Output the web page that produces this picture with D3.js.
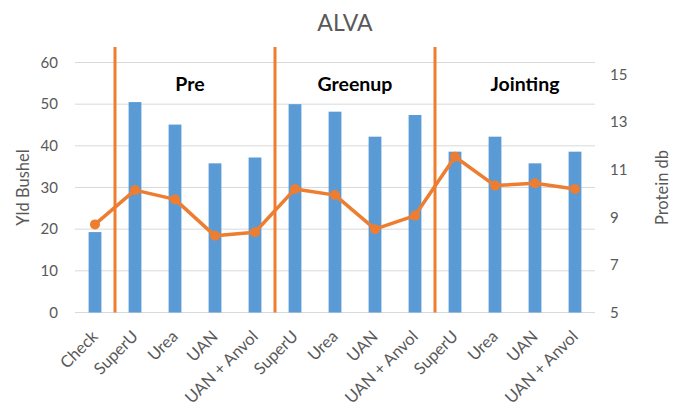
<!DOCTYPE html>
<html>
<head>
<meta charset="utf-8">
<script src="https://cdnjs.cloudflare.com/ajax/libs/d3/7.8.5/d3.min.js"></script>
<style>
  body { margin: 0; background: #fff; }
  text { font-family: Lato, "Open Sans", sans-serif; }
</style>
</head>
<body>
<div id="chart"></div>
<script>
// data
const categories = ["Check", "SuperU", "Urea", "UAN", "UAN + Anvol",
    "SuperU", "Urea", "UAN", "UAN + Anvol",
    "SuperU", "Urea", "UAN", "UAN + Anvol"];
const yieldBushel = [19.3, 50.5, 45.1, 35.8, 37.2, 50.0, 48.2, 42.2, 47.4, 38.6, 42.2, 35.8, 38.6];
const proteinDb = [8.7, 10.14, 9.75, 8.22, 8.37, 10.19, 9.93, 8.5, 9.07, 11.54, 10.33, 10.43, 10.19];
const leftTicks = [0, 10, 20, 30, 40, 50, 60];
const rightTicks = [5, 7, 9, 11, 13, 15];
const timingGroups = ["Pre", "Greenup", "Jointing"];
const dividerAfter = [0, 4, 8];   // vertical line after this category index

const W = 685, H = 408;
const margin = {top: 62.5, right: 90, bottom: 95.5, left: 75};
const width = W - margin.left - margin.right;
const height = H - margin.top - margin.bottom;

const svg = d3.select("#chart").append("svg")
    .attr("width", W)
    .attr("height", H);

const g = svg.append("g")
    .attr("transform", `translate(${margin.left},${margin.top})`);

const x = d3.scaleBand()
    .domain(d3.range(categories.length))
    .range([0, width]);

const y = d3.scaleLinear().domain([0, 60]).range([height, 0]);
const y2 = d3.scaleLinear().domain([5, 15.5]).range([height, 0]);

// gridlines
g.selectAll("line.grid")
    .data(leftTicks)
    .enter().append("line")
    .attr("class", "grid")
    .attr("x1", 0).attr("x2", width)
    .attr("y1", d => y(d)).attr("y2", d => y(d))
    .attr("stroke", "#d9d9d9")
    .attr("stroke-width", 1);

// left axis
const yAxis = d3.axisLeft(y).tickValues(leftTicks).tickSize(0).tickPadding(17);
g.append("g").attr("class", "y-axis").call(yAxis)
    .call(a => a.select(".domain").remove())
    .selectAll("text")
    .attr("fill", "#595959")
    .style("font-size", "15px");

// right axis
const y2Axis = d3.axisRight(y2).tickValues(rightTicks).tickSize(0).tickPadding(15);
g.append("g").attr("class", "y2-axis")
    .attr("transform", `translate(${width},0)`)
    .call(y2Axis)
    .call(a => a.select(".domain").remove())
    .selectAll("text")
    .attr("fill", "#595959")
    .style("font-size", "15px");

// bars
const barW = x.bandwidth() * 0.32;
g.selectAll("rect.bar")
    .data(yieldBushel)
    .enter().append("rect")
    .attr("class", "bar")
    .attr("x", (d, i) => x(i) + x.bandwidth() / 2 - barW / 2)
    .attr("y", d => y(d))
    .attr("width", barW)
    .attr("height", d => y(0) - y(d))
    .attr("fill", "#5b9bd5");

// vertical dividers
g.selectAll("line.divider")
    .data(dividerAfter)
    .enter().append("line")
    .attr("class", "divider")
    .attr("x1", d => x(d) + x.bandwidth())
    .attr("x2", d => x(d) + x.bandwidth())
    .attr("y1", -15.5)
    .attr("y2", height)
    .attr("stroke", "#ed7d31")
    .attr("stroke-width", 3);

// protein line
const line = d3.line()
    .x((d, i) => x(i) + x.bandwidth() / 2)
    .y(d => y2(d));

g.append("path")
    .datum(proteinDb)
    .attr("d", line)
    .attr("fill", "none")
    .attr("stroke", "#ed7d31")
    .attr("stroke-width", 3.5)
    .attr("stroke-linejoin", "round");

g.selectAll("circle.dot")
    .data(proteinDb)
    .enter().append("circle")
    .attr("class", "dot")
    .attr("cx", (d, i) => x(i) + x.bandwidth() / 2)
    .attr("cy", d => y2(d))
    .attr("r", 5)
    .attr("fill", "#ed7d31");

// group labels
const labelOffsets = [2.875, 7, 11.25];
g.selectAll("text.group")
    .data(timingGroups)
    .enter().append("text")
    .attr("class", "group")
    .attr("x", (d, i) => labelOffsets[i] * x.bandwidth())
    .attr("y", 91 - margin.top)
    .attr("text-anchor", "middle")
    .style("font-size", "19.5px")
    .style("font-weight", "bold")
    .attr("fill", "#000")
    .text(d => d);

// x labels
g.selectAll("text.xlab")
    .data(categories)
    .enter().append("text")
    .attr("class", "xlab")
    .attr("transform", (d, i) => `translate(${x(i) + x.bandwidth() / 2 + 4},${height + 25}) rotate(-45)`)
    .attr("text-anchor", "end")
    .attr("fill", "#595959")
    .style("font-size", "16.5px")
    .text(d => d);

// title
svg.append("text")
    .attr("x", 345)
    .attr("y", 31)
    .attr("text-anchor", "middle")
    .attr("fill", "#595959")
    .style("font-size", "23px")
    .text("ALVA");

// axis titles
svg.append("text")
    .attr("transform", `translate(29,${margin.top + height / 2}) rotate(-90)`)
    .attr("text-anchor", "middle")
    .attr("fill", "#595959")
    .style("font-size", "16.5px")
    .text("Yld Bushel");

svg.append("text")
    .attr("transform", `translate(668,${margin.top + height / 2}) rotate(-90)`)
    .attr("text-anchor", "middle")
    .attr("fill", "#595959")
    .style("font-size", "16.5px")
    .text("Protein db");
</script>
</body>
</html>
